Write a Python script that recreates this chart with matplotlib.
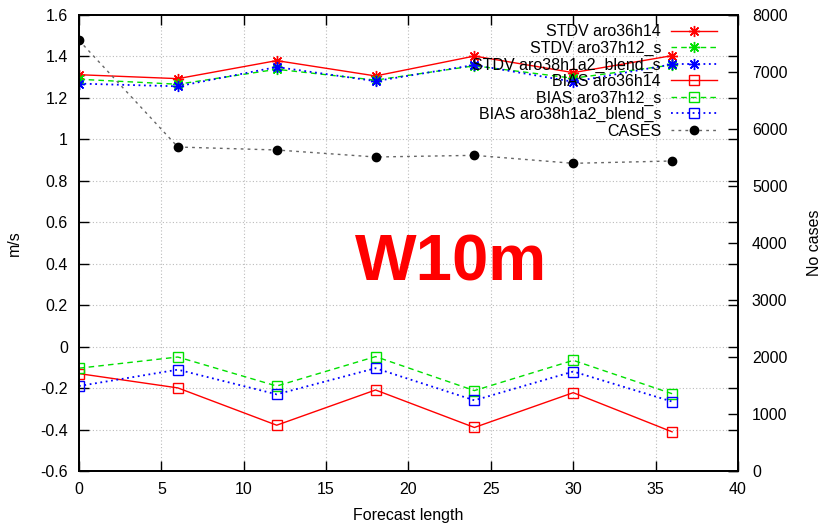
import matplotlib
matplotlib.use("Agg")
import matplotlib.pyplot as plt
from matplotlib.ticker import FuncFormatter

plt.rcParams["font.family"] = ["Liberation Sans", "DejaVu Sans"]
plt.rcParams["font.size"] = 11.5

# forecast lead times (h)
leads = [0, 6, 12, 18, 24, 30, 36]

stdv_aro36h14 = [1.312, 1.293, 1.380, 1.306, 1.402, 1.322, 1.404]
stdv_aro37h12_s = [1.290, 1.266, 1.338, 1.286, 1.355, 1.295, 1.359]
stdv_aro38h1a2_blend_s = [1.269, 1.256, 1.349, 1.281, 1.359, 1.278, 1.362]

bias_aro36h14 = [-0.130, -0.199, -0.379, -0.209, -0.390, -0.222, -0.411]
bias_aro37h12_s = [-0.104, -0.050, -0.190, -0.048, -0.212, -0.066, -0.227]
bias_aro38h1a2_blend_s = [-0.190, -0.111, -0.230, -0.104, -0.259, -0.120, -0.265]

cases = [7556, 5684, 5632, 5509, 5538, 5398, 5439]

RED = "#ff0000"
GREEN = "#00e000"
BLUE = "#0000ff"

fig = plt.figure(figsize=(8.21, 5.23), dpi=100)
ax = fig.add_axes([0.0962, 0.0994, 0.8027, 0.8719])
ax2 = ax.twinx()

star = (8, 2, 0)
h1, = ax.plot(leads, stdv_aro36h14, color=RED, lw=1.0, marker=star, ms=8, mew=1,
              label="STDV aro36h14")
h2, = ax.plot(leads, stdv_aro37h12_s, color=GREEN, lw=1.0, ls=(0, (4, 3)), marker=star,
              ms=8, mew=1, label="STDV aro37h12_s")
h3, = ax.plot(leads, stdv_aro38h1a2_blend_s, color=BLUE, lw=1.3, ls=(0, (1, 2)),
              marker=star, ms=8, mew=1, label="STDV aro38h1a2_blend_s")
h4, = ax.plot(leads, bias_aro36h14, color=RED, lw=1.0, marker="s", ms=7, mfc="none",
              mew=1, label="BIAS aro36h14")
h5, = ax.plot(leads, bias_aro37h12_s, color=GREEN, lw=1.0, ls=(0, (4, 3)), marker="s",
              ms=7, mfc="none", mew=1, label="BIAS aro37h12_s")
h6, = ax.plot(leads, bias_aro38h1a2_blend_s, color=BLUE, lw=1.3, ls=(0, (1, 2)),
              marker="s", ms=7, mfc="none", mew=1, label="BIAS aro38h1a2_blend_s")
h7, = ax2.plot(leads, cases, color="#666666", lw=1.0, ls=(0, (2, 3)), marker="o",
               ms=6, mfc="black", mec="black", label="CASES")

ax.set_xlim(0, 40)
ax.set_ylim(-0.6, 1.6)
ax2.set_ylim(0, 8000)
ax.set_xticks(range(0, 41, 5))
ax.set_yticks([-0.6 + 0.2 * i for i in range(12)])
ax2.set_yticks(range(0, 8001, 1000))
ax.yaxis.set_major_formatter(FuncFormatter(lambda v, p: f"{round(v, 2):g}"))

ax.grid(True, color="#bbbbbb", ls=(0, (1, 2)), lw=0.8)
ax.tick_params(direction="in", length=7, width=1, top=True, right=True,
               labelright=False, pad=8)
ax2.tick_params(direction="in", length=7, width=1, pad=10)
for a in (ax, ax2):
    for s in a.spines.values():
        s.set_linewidth(1.3)

ax.set_xlabel("Forecast length", labelpad=8)
ax.set_ylabel("m/s", labelpad=13)
ax2.set_ylabel("No cases", labelpad=14)

ax.text(0.565, 0.454, "W10m", transform=ax.transAxes, color=RED, fontsize=47,
        fontweight="bold", ha="center", va="center")

ax2.legend(handles=[h1, h2, h3, h4, h5, h6, h7], loc="upper right",
           bbox_to_anchor=(0.985, 1.004), frameon=False,
           markerfirst=False, handlelength=2.9, handletextpad=0.6, labelspacing=0.09,
           borderaxespad=0.3, fontsize=11.5)

fig.savefig("out.png", dpi=100)
